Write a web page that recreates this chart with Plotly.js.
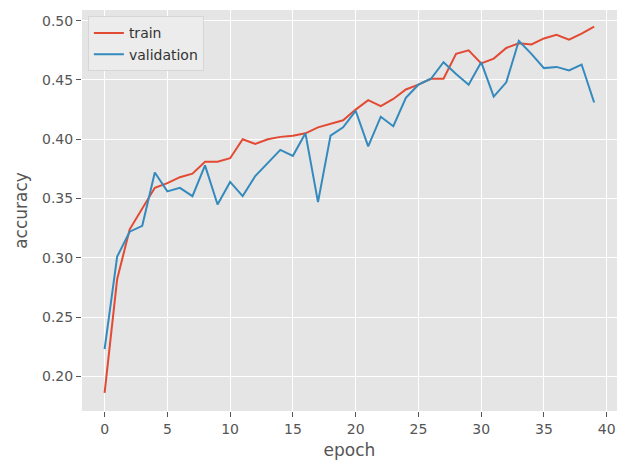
<!DOCTYPE html>
<html>
<head>
<meta charset="utf-8">
<script src="https://cdn.plot.ly/plotly-3.0.1.min.js"></script>
<style>html,body{margin:0;padding:0;background:#fff;}#chart{width:620px;height:462px;}</style>
</head>
<body>
<div id="chart"></div>
<script>
const epochs = Array.from({length: 40}, (_, i) => i);
const trainAcc = [0.186, 0.282, 0.324, 0.342, 0.359, 0.363, 0.368, 0.371, 0.381, 0.381,
                  0.384, 0.400, 0.396, 0.400, 0.402, 0.403, 0.405, 0.410, 0.413, 0.416,
                  0.425, 0.433, 0.428, 0.434, 0.442, 0.446, 0.451, 0.451, 0.472, 0.475,
                  0.464, 0.468, 0.477, 0.481, 0.480, 0.485, 0.488, 0.484, 0.489, 0.495];
const valAcc = [0.223, 0.301, 0.322, 0.327, 0.372, 0.356, 0.359, 0.352, 0.378, 0.345,
                0.364, 0.352, 0.369, 0.380, 0.391, 0.386, 0.405, 0.347, 0.403, 0.410,
                0.424, 0.394, 0.419, 0.411, 0.435, 0.446, 0.451, 0.465, 0.455, 0.446,
                0.465, 0.436, 0.448, 0.483, 0.472, 0.460, 0.461, 0.458, 0.463, 0.431];
const xTicks = [0, 5, 10, 15, 20, 25, 30, 35, 40];
const yTicks = [0.20, 0.25, 0.30, 0.35, 0.40, 0.45, 0.50];

const traces = [
  {x: epochs, y: trainAcc, name: 'train', type: 'scatter', mode: 'lines',
   line: {color: '#E24A33', width: 2}},
  {x: epochs, y: valAcc, name: 'validation', type: 'scatter', mode: 'lines',
   line: {color: '#348ABD', width: 2}}
];

const axisCommon = {
  showgrid: true, gridcolor: '#ffffff', gridwidth: 1,
  zeroline: false, showline: false,
  ticks: 'outside', ticklen: 5, tickwidth: 1, tickcolor: '#555555',
  tickfont: {family: 'DejaVu Sans', size: 14, color: '#555555'}
};

const layout = {
  width: 620, height: 462,
  paper_bgcolor: '#ffffff', plot_bgcolor: '#E5E5E5',
  margin: {l: 82, r: 3, t: 10, b: 51},
  showlegend: true,
  legend: {x: 0.011, y: 0.984, xanchor: 'left', yanchor: 'top',
           bgcolor: 'rgba(236,236,236,0.95)', bordercolor: '#d6d6d6', borderwidth: 1,
           font: {family: 'DejaVu Sans', size: 14, color: '#333333'},
           tracegroupgap: 2},
  xaxis: Object.assign({}, axisCommon, {
    range: [-1.8, 40.82], tickvals: xTicks, ticktext: xTicks.map(String),
    title: {text: 'epoch', font: {family: 'DejaVu Sans', size: 17, color: '#555555'}, standoff: 8}
  }),
  yaxis: Object.assign({}, axisCommon, {
    range: [0.1708, 0.509], tickvals: yTicks, ticktext: yTicks.map(v => v.toFixed(2)),
    title: {text: 'accuracy', font: {family: 'DejaVu Sans', size: 17, color: '#555555'}, standoff: 10}
  })
};

Plotly.newPlot('chart', traces, layout, {displayModeBar: false, staticPlot: true});
</script>
</body>
</html>
